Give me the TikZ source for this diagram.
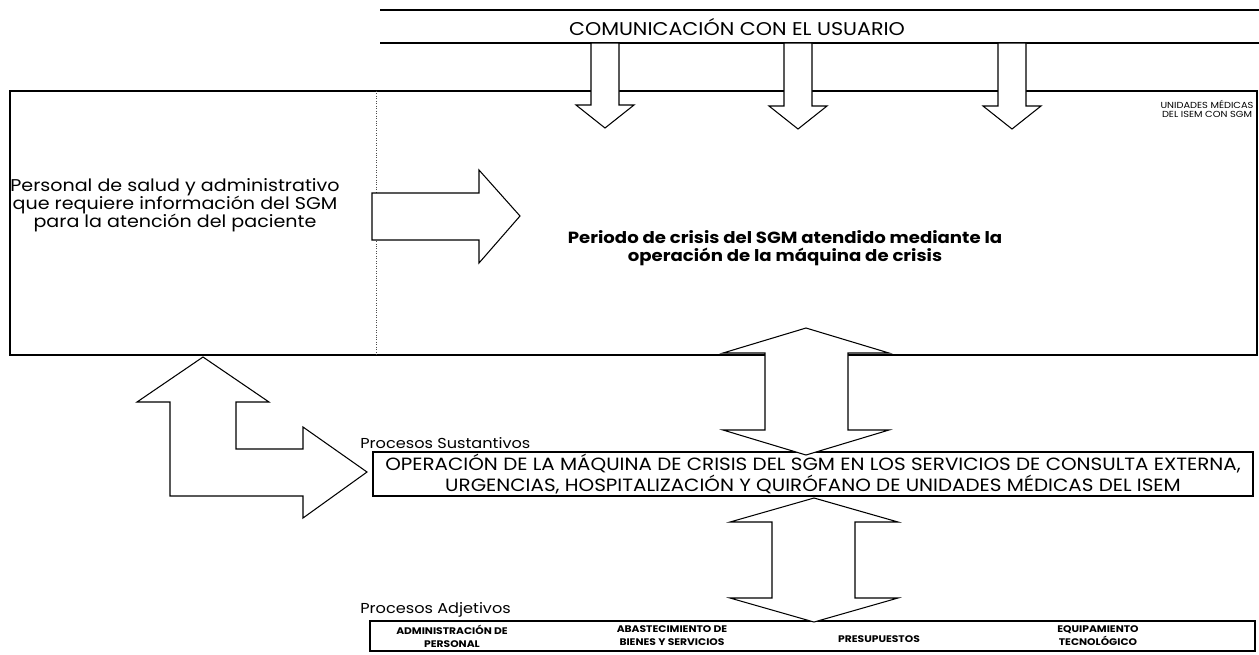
\documentclass[tikz,border=0pt]{standalone}
\usepackage{fontspec}
\setmainfont{Poppins}[FakeStretch=1.12]
\usepackage{tikz}
\usetikzlibrary{positioning, calc}
\tikzstyle{frame} = [draw=black, line width=0.6pt]
\tikzstyle{divider} = [draw=black!70, line width=0.4pt, densely dotted]
\tikzstyle{bigarrow} = [draw=black, line width=0.6pt, fill=white, line join=miter]
\tikzstyle{plain} = [inner sep=0pt, align=center, text=black]
\tikzstyle{celltext} = [plain, font=\fontsize{5.45}{7.4}\selectfont\bfseries]

\begin{document}
\begin{tikzpicture}[x=0.2mm, y=-0.2mm]
\useasboundingbox (0,0) rectangle (1259,654);

% Communication banner
\draw [frame] (380,10) -- (1259,10);
\draw [frame] (380,43) -- (1259,43);
\node (banner) [plain, font=\fontsize{10.5}{13}\selectfont] at (737,27) {COMUNICACIÓN CON EL USUARIO};

% Main box with medical units
\draw [frame] (10,91) rectangle (1257,355);
\draw [divider] (376,91) -- (376,355);
\node (staff) [plain, font=\fontsize{9.7}{10.2}\selectfont] at (175,205) {Personal de salud y administrativo\\que requiere información del SGM\\para la atención del paciente};
\node (crisis) [plain, font=\fontsize{9.2}{10.2}\selectfont\bfseries] at (785,248) {Periodo de crisis del SGM atendido mediante la\\operación de la máquina de crisis};
\node (units) [plain, font=\fontsize{5}{5.6}\selectfont] at (1207,109) {UNIDADES MÉDICAS\\DEL ISEM CON SGM};

% Substantive processes
\node (sustlabel) [plain, anchor=south west, font=\fontsize{8.2}{10}\selectfont] at (360,449) {Procesos Sustantivos};
\draw [frame] (373,452) rectangle (1253,496);
\node (sust) [plain, font=\fontsize{10.1}{9.4}\selectfont] at (813,474) {OPERACIÓN DE LA MÁQUINA DE CRISIS DEL SGM EN LOS SERVICIOS DE CONSULTA EXTERNA,\\URGENCIAS, HOSPITALIZACIÓN Y QUIRÓFANO DE UNIDADES MÉDICAS DEL ISEM};

% Adjective processes
\node (adjlabel) [plain, anchor=south west, font=\fontsize{8.2}{10}\selectfont] at (360,618) {Procesos Adjetivos};
\draw [frame] (370,621) rectangle (1255,651);
\node (adm) [celltext] at (452,636) {ADMINISTRACIÓN DE\\PERSONAL};
\node (abas) [celltext] at (672,636) {ABASTECIMIENTO DE\\BIENES Y SERVICIOS};
\node (pres) [celltext] at (879,639) {PRESUPUESTOS};
\node (equip) [celltext] at (1098,636) {EQUIPAMIENTO\\TECNOLÓGICO};

% Arrows from the banner
\coordinate (down1) at (605,128);
\coordinate (down2) at (798,129);
\coordinate (down3) at (1012,129);
\draw [bigarrow] (down1) -- ++(-29,-23) -- ++(15,0) -- ++(0,-62) -- ++(28,0) -- ++(0,62) -- ++(15,0) -- cycle;
\draw [bigarrow] (down2) -- ++(-29,-23) -- ++(15,0) -- ++(0,-63) -- ++(28,0) -- ++(0,63) -- ++(15,0) -- cycle;
\draw [bigarrow] (down3) -- ++(-29,-23) -- ++(15,0) -- ++(0,-63) -- ++(28,0) -- ++(0,63) -- ++(15,0) -- cycle;

% Arrow from staff to crisis period
\coordinate (right1) at (520,216);
\draw [bigarrow] (right1) -- ++(-41,-46) -- ++(0,23) -- ++(-107,0) -- ++(0,47) -- ++(107,0) -- ++(0,23) -- cycle;

% Double arrows between the levels
\coordinate (up1) at (806,328);
\draw [bigarrow] (up1) -- ++(83,25) -- ++(-41,0) -- ++(0,77) -- ++(41,0) -- ++(-83,25) -- ++(-83,-25) -- ++(42,0) -- ++(0,-77) -- ++(-42,0) -- cycle;
\coordinate (up2) at (814,498);
\draw [bigarrow] (up2) -- ++(84,24) -- ++(-43,0) -- ++(0,76) -- ++(43,0) -- ++(-84,24) -- ++(-84,-24) -- ++(42,0) -- ++(0,-76) -- ++(-42,0) -- cycle;

% L-shaped arrow from staff to substantive processes
\coordinate (bend) at (203,357);
\draw [bigarrow] (bend) -- ++(66,45) -- ++(-33,0) -- ++(0,47) -- ++(67,0) -- ++(0,-22) -- ++(64,45) -- ++(-64,46) -- ++(0,-22) -- ++(-133,0) -- ++(0,-94) -- ++(-33,0) -- cycle;

\end{tikzpicture}
\end{document}
